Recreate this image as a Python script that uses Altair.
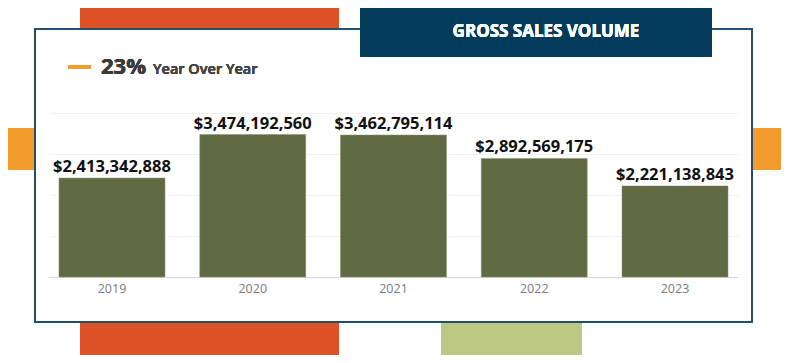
import altair as alt
import pandas as pd

years = ["2019", "2020", "2021", "2022", "2023"]
sales = [2413342888, 3474192560, 3462795114, 2892569175, 2221138843]
sales_labels = ["$2,413,342,888", "$3,474,192,560", "$3,462,795,114",
                "$2,892,569,175", "$2,221,138,843"]
title_text = "GROSS SALES VOLUME"
yoy_value = "23%"
yoy_text = "Year Over Year"

df = pd.DataFrame({"year": years, "sales": sales, "label": sales_labels})

# decorative shapes (plot-area pixel coordinates)
deco = pd.DataFrame({
    "x":  [31, -49, 703, 31, 392],
    "x2": [290, -14, 745, 290, 533],
    "y":  [-120, 15, 15, 209, 209],
    "y2": [-85, 57, 57, 260, 260],
    "c":  ["#dd5226", "#f39c2c", "#f39c2c", "#dd5226", "#bdc982"],
})

W, H = 689, 164

xenc = alt.X("year:N", sort=years, title=None,
             scale=alt.Scale(paddingInner=0.247, paddingOuter=0.071),
             axis=alt.Axis(labelColor="#7a7a7a", labelFontSize=12.5, labelFont="Open Sans",
                           ticks=False, domainColor="#d6d6d6", domainWidth=1,
                           labelPadding=5, labelAngle=0, grid=False))
yenc = alt.Y("sales:Q", title=None,
             scale=alt.Scale(domain=[0, 4e9], nice=False),
             axis=alt.Axis(labels=False, ticks=False, domain=False,
                           values=[0, 1e9, 2e9, 3e9, 4e9],
                           gridColor="#f1f1f1", gridWidth=1))

base = alt.Chart(df)

deco_layer = alt.Chart(deco).mark_rect().encode(
    x=alt.X("x:Q", scale=None, axis=None), x2="x2:Q",
    y=alt.Y("y:Q", scale=None, axis=None), y2="y2:Q",
    color=alt.Color("c:N", scale=None),
)

box = base.mark_rect(fill="white", fillOpacity=0, stroke="#244f70", strokeWidth=1.5).encode(
    x=alt.value(-14), x2=alt.value(703), y=alt.value(-84), y2=alt.value(209))

navy = base.mark_rect(fill="#033b5b").encode(
    x=alt.value(311), x2=alt.value(663), y=alt.value(-110), y2=alt.value(-56))

title = base.mark_text(text=title_text, font="Open Sans", fontWeight="bold", fontSize=17,
                       color="white", align="center", baseline="middle").encode(
    x=alt.value(497), y=alt.value(-81))

dash = base.mark_rect(fill="#f39c2c").encode(
    x=alt.value(19), x2=alt.value(42), y=alt.value(-48), y2=alt.value(-44))

pct = base.mark_text(text=yoy_value, font="Open Sans", fontWeight="bold", fontSize=22,
                     color="#3b3b3b", align="left", baseline="alphabetic").encode(
    x=alt.value(52), y=alt.value(-39))

yoy = base.mark_text(text=yoy_text, font="Open Sans", fontWeight=600, fontSize=14.5,
                     color="#444444", align="left", baseline="alphabetic").encode(
    x=alt.value(104), y=alt.value(-39))

bars = base.mark_bar(color="#606a43", stroke="#8a9070", strokeWidth=0.5).encode(x=xenc, y=yenc)

labels = base.mark_text(font="Open Sans", fontWeight="bold", fontSize=16.5, color="#111111",
                        baseline="alphabetic", dy=-6).encode(
    x=alt.X("year:N", sort=years),
    y="sales:Q",
    text="label:N",
)

chart = alt.layer(deco_layer, box, navy, title, dash, pct, yoy, bars, labels).properties(
    width=W, height=H,
    autosize=alt.AutoSizeParams(type="none"),
    padding={"left": 41, "top": 105, "right": 43, "bottom": 78},
).configure(background="white").configure_view(stroke=None)

chart.save("out.html", embed_options={"renderer": "svg", "actions": False})
